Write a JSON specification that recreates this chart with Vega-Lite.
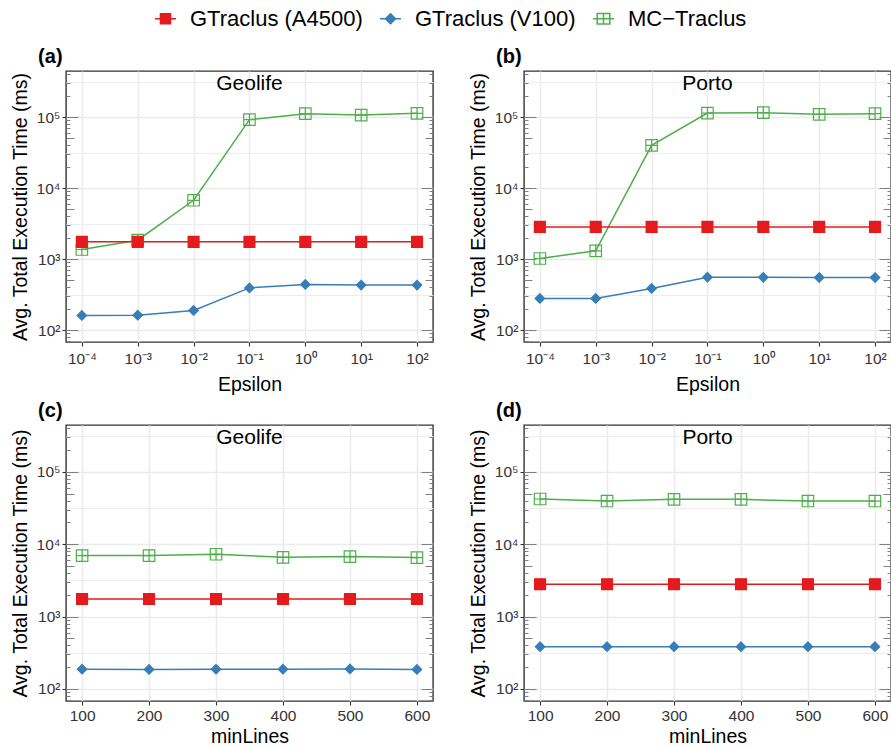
{
  "$schema": "https://vega.github.io/schema/vega-lite/v6.json",
  "padding": {"top": 7, "left": 9, "right": 0, "bottom": 0},
  "config": {
    "font": "Liberation Sans",
    "view": {"stroke": "#333333", "strokeWidth": 1.4},
    "axis": {"labelFont": "Liberation Sans", "titleFont": "Liberation Sans", "labelFontSize": 15.5, "labelColor": "#333333", "titleFontSize": 19.5, "titleFontWeight": "normal", "titleColor": "black", "domain": false, "tickColor": "#333333", "tickSize": 4, "tickWidth": 1.1, "gridColor": "#EBEBEB", "gridWidth": 1.5, "labelPadding": 2, "titlePadding": 6, "labelOverlap": false, "labelFlush": false},
    "legend": {"orient": "top", "direction": "horizontal", "labelFontSize": 22, "labelColor": "black", "labelFont": "Liberation Sans", "symbolSize": 441, "labelOffset": 13, "columnPadding": 14, "offset": 16, "symbolStrokeWidth": 1.5, "labelLimit": 400, "layout": {"top": {"anchor": "middle"}}},
    "title": {"fontSize": 20, "fontWeight": "bold", "color": "black", "anchor": "start", "frame": "bounds", "dx": 28, "offset": 4, "baseline": "bottom"}
  },
  "datasets": {
    "geolife_eps": [
      {"method": "MC−Traclus", "epsilon": 0.0001, "time": 1365},
      {"method": "MC−Traclus", "epsilon": 0.001, "time": 1845},
      {"method": "MC−Traclus", "epsilon": 0.01, "time": 6730},
      {"method": "MC−Traclus", "epsilon": 0.1, "time": 92000},
      {"method": "MC−Traclus", "epsilon": 1, "time": 111600},
      {"method": "MC−Traclus", "epsilon": 10, "time": 106700},
      {"method": "MC−Traclus", "epsilon": 100, "time": 112800},
      {"method": "GTraclus (V100)", "epsilon": 0.0001, "time": 161},
      {"method": "GTraclus (V100)", "epsilon": 0.001, "time": 162},
      {"method": "GTraclus (V100)", "epsilon": 0.01, "time": 189},
      {"method": "GTraclus (V100)", "epsilon": 0.1, "time": 393},
      {"method": "GTraclus (V100)", "epsilon": 1, "time": 440},
      {"method": "GTraclus (V100)", "epsilon": 10, "time": 430},
      {"method": "GTraclus (V100)", "epsilon": 100, "time": 430},
      {"method": "GTraclus (A4500)", "epsilon": 0.0001, "time": 1750},
      {"method": "GTraclus (A4500)", "epsilon": 0.001, "time": 1750},
      {"method": "GTraclus (A4500)", "epsilon": 0.01, "time": 1750},
      {"method": "GTraclus (A4500)", "epsilon": 0.1, "time": 1750},
      {"method": "GTraclus (A4500)", "epsilon": 1, "time": 1750},
      {"method": "GTraclus (A4500)", "epsilon": 10, "time": 1750},
      {"method": "GTraclus (A4500)", "epsilon": 100, "time": 1750}
    ],
    "porto_eps": [
      {"method": "MC−Traclus", "epsilon": 0.0001, "time": 1019},
      {"method": "MC−Traclus", "epsilon": 0.001, "time": 1307},
      {"method": "MC−Traclus", "epsilon": 0.01, "time": 40000},
      {"method": "MC−Traclus", "epsilon": 0.1, "time": 113800},
      {"method": "MC−Traclus", "epsilon": 1, "time": 115300},
      {"method": "MC−Traclus", "epsilon": 10, "time": 109100},
      {"method": "MC−Traclus", "epsilon": 100, "time": 111600},
      {"method": "GTraclus (V100)", "epsilon": 0.0001, "time": 279},
      {"method": "GTraclus (V100)", "epsilon": 0.001, "time": 279},
      {"method": "GTraclus (V100)", "epsilon": 0.01, "time": 386},
      {"method": "GTraclus (V100)", "epsilon": 0.1, "time": 556},
      {"method": "GTraclus (V100)", "epsilon": 1, "time": 553},
      {"method": "GTraclus (V100)", "epsilon": 10, "time": 550},
      {"method": "GTraclus (V100)", "epsilon": 100, "time": 550},
      {"method": "GTraclus (A4500)", "epsilon": 0.0001, "time": 2840},
      {"method": "GTraclus (A4500)", "epsilon": 0.001, "time": 2840},
      {"method": "GTraclus (A4500)", "epsilon": 0.01, "time": 2840},
      {"method": "GTraclus (A4500)", "epsilon": 0.1, "time": 2840},
      {"method": "GTraclus (A4500)", "epsilon": 1, "time": 2840},
      {"method": "GTraclus (A4500)", "epsilon": 10, "time": 2840},
      {"method": "GTraclus (A4500)", "epsilon": 100, "time": 2840}
    ],
    "geolife_ml": [
      {"method": "MC−Traclus", "minLines": 100, "time": 6970},
      {"method": "MC−Traclus", "minLines": 200, "time": 6970},
      {"method": "MC−Traclus", "minLines": 300, "time": 7265},
      {"method": "MC−Traclus", "minLines": 400, "time": 6590},
      {"method": "MC−Traclus", "minLines": 500, "time": 6740},
      {"method": "MC−Traclus", "minLines": 600, "time": 6530},
      {"method": "GTraclus (V100)", "minLines": 100, "time": 187},
      {"method": "GTraclus (V100)", "minLines": 200, "time": 186},
      {"method": "GTraclus (V100)", "minLines": 300, "time": 187},
      {"method": "GTraclus (V100)", "minLines": 400, "time": 187},
      {"method": "GTraclus (V100)", "minLines": 500, "time": 189},
      {"method": "GTraclus (V100)", "minLines": 600, "time": 186},
      {"method": "GTraclus (A4500)", "minLines": 100, "time": 1750},
      {"method": "GTraclus (A4500)", "minLines": 200, "time": 1750},
      {"method": "GTraclus (A4500)", "minLines": 300, "time": 1750},
      {"method": "GTraclus (A4500)", "minLines": 400, "time": 1750},
      {"method": "GTraclus (A4500)", "minLines": 500, "time": 1750},
      {"method": "GTraclus (A4500)", "minLines": 600, "time": 1750}
    ],
    "porto_ml": [
      {"method": "MC−Traclus", "minLines": 100, "time": 42200},
      {"method": "MC−Traclus", "minLines": 200, "time": 39560},
      {"method": "MC−Traclus", "minLines": 300, "time": 41700},
      {"method": "MC−Traclus", "minLines": 400, "time": 41700},
      {"method": "MC−Traclus", "minLines": 500, "time": 39560},
      {"method": "MC−Traclus", "minLines": 600, "time": 39560},
      {"method": "GTraclus (V100)", "minLines": 100, "time": 383},
      {"method": "GTraclus (V100)", "minLines": 200, "time": 383},
      {"method": "GTraclus (V100)", "minLines": 300, "time": 383},
      {"method": "GTraclus (V100)", "minLines": 400, "time": 383},
      {"method": "GTraclus (V100)", "minLines": 500, "time": 383},
      {"method": "GTraclus (V100)", "minLines": 600, "time": 383},
      {"method": "GTraclus (A4500)", "minLines": 100, "time": 2800},
      {"method": "GTraclus (A4500)", "minLines": 200, "time": 2800},
      {"method": "GTraclus (A4500)", "minLines": 300, "time": 2800},
      {"method": "GTraclus (A4500)", "minLines": 400, "time": 2800},
      {"method": "GTraclus (A4500)", "minLines": 500, "time": 2800},
      {"method": "GTraclus (A4500)", "minLines": 600, "time": 2800}
    ]
  },
  "columns": 2,
  "spacing": {"row": 5, "column": 32},
  "concat": [
    {
      "width": 367, "height": 271,
      "title": {"text": "(a)"},
      "data": {"name": "geolife_eps"},
      "resolve": {"axis": {"y": "independent"}},
      "layer": [
        {
          "mark": {"type": "line", "strokeWidth": 1.5},
          "encoding": {
            "x": {"field": "epsilon", "type": "quantitative", "scale": {"type": "log", "domain": [0.000052, 193], "nice": false},
              "axis": {"title": "Epsilon", "values": [0.0001, 0.001, 0.01, 0.1, 1, 10, 100], "grid": true, "labelPadding": 5, "titlePadding": 9, "labelExpr": "'10' + replace(replace(replace(replace(replace(replace(replace('' + round(log(datum.value)/LN10), '-', '⁻'), '0', '⁰'), '1', '¹'), '2', '²'), '3', '³'), '4', '⁴'), '5', '⁵')"}},
            "y": {"field": "time", "type": "quantitative", "scale": {"type": "log", "domain": [68, 445000], "nice": false},
              "axis": {"orient": "left", "title": "Avg. Total Execution Time (ms)", "values": [100, 316.2278, 1000, 3162.278, 10000, 31622.78, 100000, 316227.8], "grid": true,
                "labelExpr": "abs(log(datum.value)/LN10 - round(log(datum.value)/LN10)) > 0.1 ? '' : '10' + replace(replace(replace(replace(replace('' + round(log(datum.value)/LN10), '1', '¹'), '2', '²'), '3', '³'), '4', '⁴'), '5', '⁵')",
                "gridWidth": {"condition": {"test": "abs(log(datum.value)/LN10 - round(log(datum.value)/LN10)) > 0.1", "value": 0.9}, "value": 1.5},
                "tickOpacity": {"condition": {"test": "abs(log(datum.value)/LN10 - round(log(datum.value)/LN10)) > 0.1", "value": 0}, "value": 1}}},
            "color": {"field": "method", "type": "nominal", "scale": {"domain": ["GTraclus (A4500)", "GTraclus (V100)", "MC−Traclus"], "range": ["#E41A1C", "#377EB8", "#4DAF4A"]},
              "legend": {"title": null, "labelFontSize": 22, "symbolSize": 441, "labelOffset": 13, "columnPadding": 14, "encoding": {"symbols": {
                "shape": {"value": {"expr": "datum.value === 'GTraclus (A4500)' ? 'M-1,0H1M-0.48,-0.48H0.48V0.48H-0.48Z' : datum.value === 'GTraclus (V100)' ? 'M-1,0H1M0,-0.48L0.48,0L0,0.48L-0.48,0Z' : 'M-1,0H1M-0.6,-0.5H0.6V0.5H-0.6ZM0,-0.5V0.5'"}},
                "fill": {"value": {"expr": "datum.value === 'GTraclus (A4500)' ? '#E41A1C' : datum.value === 'GTraclus (V100)' ? '#377EB8' : 'transparent'"}},
                "size": {"value": 441}, "strokeWidth": {"value": 1.5}, "opacity": {"value": 1}}}}}
          }
        },
        {
          "mark": {"type": "point", "filled": false, "opacity": 1, "size": 196, "strokeWidth": 1.2},
          "encoding": {
            "x": {"field": "epsilon", "type": "quantitative"},
            "y": {"field": "time", "type": "quantitative",
              "axis": {"orient": "left", "title": null, "labels": false, "grid": false, "tickColor": "#808080", "tickWidth": 1,
                "values": [70, 80, 90, 100, 200, 300, 400, 500, 600, 700, 800, 900, 1000, 2000, 3000, 4000, 5000, 6000, 7000, 8000, 9000, 10000, 20000, 30000, 40000, 50000, 60000, 70000, 80000, 90000, 100000, 200000, 300000, 400000],
                "tickSize": {"condition": [{"test": "abs(log(datum.value)/LN10 - round(log(datum.value)/LN10)) < 0.01", "value": -12}, {"test": "round(datum.value / pow(10, floor(log(datum.value)/LN10 + 0.000001))) == 5", "value": -8}], "value": -4}}},
            "color": {"field": "method", "type": "nominal", "scale": {"domain": ["GTraclus (A4500)", "GTraclus (V100)", "MC−Traclus"], "range": ["#E41A1C", "#377EB8", "#4DAF4A"]},
              "legend": {"title": null, "labelFontSize": 22, "symbolSize": 441, "labelOffset": 13, "columnPadding": 14, "encoding": {"symbols": {
                "shape": {"value": {"expr": "datum.value === 'GTraclus (A4500)' ? 'M-1,0H1M-0.48,-0.48H0.48V0.48H-0.48Z' : datum.value === 'GTraclus (V100)' ? 'M-1,0H1M0,-0.48L0.48,0L0,0.48L-0.48,0Z' : 'M-1,0H1M-0.6,-0.5H0.6V0.5H-0.6ZM0,-0.5V0.5'"}},
                "fill": {"value": {"expr": "datum.value === 'GTraclus (A4500)' ? '#E41A1C' : datum.value === 'GTraclus (V100)' ? '#377EB8' : 'transparent'"}},
                "size": {"value": 441}, "strokeWidth": {"value": 1.5}, "opacity": {"value": 1}}}}},
            "fill": {"field": "method", "type": "nominal", "scale": {"domain": ["MC−Traclus", "GTraclus (V100)", "GTraclus (A4500)"], "range": ["transparent", "#377EB8", "#E41A1C"]}, "legend": null},
            "shape": {"field": "method", "type": "nominal", "scale": {"domain": ["MC−Traclus", "GTraclus (V100)", "GTraclus (A4500)"], "range": ["M-0.82,-0.82H0.82V0.82H-0.82ZM0,-0.82V0.82M-0.82,0H0.82", "M0,-0.68L0.68,0L0,0.68L-0.68,0Z", "M-0.78,-0.78H0.78V0.78H-0.78Z"]}, "legend": null}
          }
        },
        {
          "data": {"values": [{"name": "Geolife"}]},
          "mark": {"type": "text", "fontSize": 21, "color": "black", "baseline": "middle", "align": "center"},
          "encoding": {
            "x": {"datum": 0.1, "type": "quantitative"},
            "y": {"datum": 295000, "type": "quantitative",
              "axis": {"orient": "right", "title": null, "labels": false, "grid": false, "tickColor": "#808080", "tickWidth": 1,
                "values": [70, 80, 90, 100, 200, 300, 400, 500, 600, 700, 800, 900, 1000, 2000, 3000, 4000, 5000, 6000, 7000, 8000, 9000, 10000, 20000, 30000, 40000, 50000, 60000, 70000, 80000, 90000, 100000, 200000, 300000, 400000],
                "tickSize": {"condition": [{"test": "abs(log(datum.value)/LN10 - round(log(datum.value)/LN10)) < 0.01", "value": -12}, {"test": "round(datum.value / pow(10, floor(log(datum.value)/LN10 + 0.000001))) == 5", "value": -8}], "value": -4}}},
            "text": {"field": "name", "type": "nominal"}
          }
        }
      ]
    },
    {
      "width": 367, "height": 271,
      "title": {"text": "(b)"},
      "data": {"name": "porto_eps"},
      "resolve": {"axis": {"y": "independent"}},
      "layer": [
        {
          "mark": {"type": "line", "strokeWidth": 1.5},
          "encoding": {
            "x": {"field": "epsilon", "type": "quantitative", "scale": {"type": "log", "domain": [0.000052, 193], "nice": false},
              "axis": {"title": "Epsilon", "values": [0.0001, 0.001, 0.01, 0.1, 1, 10, 100], "grid": true, "labelPadding": 5, "titlePadding": 9, "labelExpr": "'10' + replace(replace(replace(replace(replace(replace(replace('' + round(log(datum.value)/LN10), '-', '⁻'), '0', '⁰'), '1', '¹'), '2', '²'), '3', '³'), '4', '⁴'), '5', '⁵')"}},
            "y": {"field": "time", "type": "quantitative", "scale": {"type": "log", "domain": [68, 445000], "nice": false},
              "axis": {"orient": "left", "title": "Avg. Total Execution Time (ms)", "values": [100, 316.2278, 1000, 3162.278, 10000, 31622.78, 100000, 316227.8], "grid": true,
                "labelExpr": "abs(log(datum.value)/LN10 - round(log(datum.value)/LN10)) > 0.1 ? '' : '10' + replace(replace(replace(replace(replace('' + round(log(datum.value)/LN10), '1', '¹'), '2', '²'), '3', '³'), '4', '⁴'), '5', '⁵')",
                "gridWidth": {"condition": {"test": "abs(log(datum.value)/LN10 - round(log(datum.value)/LN10)) > 0.1", "value": 0.9}, "value": 1.5},
                "tickOpacity": {"condition": {"test": "abs(log(datum.value)/LN10 - round(log(datum.value)/LN10)) > 0.1", "value": 0}, "value": 1}}},
            "color": {"field": "method", "type": "nominal", "scale": {"domain": ["GTraclus (A4500)", "GTraclus (V100)", "MC−Traclus"], "range": ["#E41A1C", "#377EB8", "#4DAF4A"]},
              "legend": {"title": null, "labelFontSize": 22, "symbolSize": 441, "labelOffset": 13, "columnPadding": 14, "encoding": {"symbols": {
                "shape": {"value": {"expr": "datum.value === 'GTraclus (A4500)' ? 'M-1,0H1M-0.48,-0.48H0.48V0.48H-0.48Z' : datum.value === 'GTraclus (V100)' ? 'M-1,0H1M0,-0.48L0.48,0L0,0.48L-0.48,0Z' : 'M-1,0H1M-0.6,-0.5H0.6V0.5H-0.6ZM0,-0.5V0.5'"}},
                "fill": {"value": {"expr": "datum.value === 'GTraclus (A4500)' ? '#E41A1C' : datum.value === 'GTraclus (V100)' ? '#377EB8' : 'transparent'"}},
                "size": {"value": 441}, "strokeWidth": {"value": 1.5}, "opacity": {"value": 1}}}}}
          }
        },
        {
          "mark": {"type": "point", "filled": false, "opacity": 1, "size": 196, "strokeWidth": 1.2},
          "encoding": {
            "x": {"field": "epsilon", "type": "quantitative"},
            "y": {"field": "time", "type": "quantitative",
              "axis": {"orient": "left", "title": null, "labels": false, "grid": false, "tickColor": "#808080", "tickWidth": 1,
                "values": [70, 80, 90, 100, 200, 300, 400, 500, 600, 700, 800, 900, 1000, 2000, 3000, 4000, 5000, 6000, 7000, 8000, 9000, 10000, 20000, 30000, 40000, 50000, 60000, 70000, 80000, 90000, 100000, 200000, 300000, 400000],
                "tickSize": {"condition": [{"test": "abs(log(datum.value)/LN10 - round(log(datum.value)/LN10)) < 0.01", "value": -12}, {"test": "round(datum.value / pow(10, floor(log(datum.value)/LN10 + 0.000001))) == 5", "value": -8}], "value": -4}}},
            "color": {"field": "method", "type": "nominal", "scale": {"domain": ["GTraclus (A4500)", "GTraclus (V100)", "MC−Traclus"], "range": ["#E41A1C", "#377EB8", "#4DAF4A"]},
              "legend": {"title": null, "labelFontSize": 22, "symbolSize": 441, "labelOffset": 13, "columnPadding": 14, "encoding": {"symbols": {
                "shape": {"value": {"expr": "datum.value === 'GTraclus (A4500)' ? 'M-1,0H1M-0.48,-0.48H0.48V0.48H-0.48Z' : datum.value === 'GTraclus (V100)' ? 'M-1,0H1M0,-0.48L0.48,0L0,0.48L-0.48,0Z' : 'M-1,0H1M-0.6,-0.5H0.6V0.5H-0.6ZM0,-0.5V0.5'"}},
                "fill": {"value": {"expr": "datum.value === 'GTraclus (A4500)' ? '#E41A1C' : datum.value === 'GTraclus (V100)' ? '#377EB8' : 'transparent'"}},
                "size": {"value": 441}, "strokeWidth": {"value": 1.5}, "opacity": {"value": 1}}}}},
            "fill": {"field": "method", "type": "nominal", "scale": {"domain": ["MC−Traclus", "GTraclus (V100)", "GTraclus (A4500)"], "range": ["transparent", "#377EB8", "#E41A1C"]}, "legend": null},
            "shape": {"field": "method", "type": "nominal", "scale": {"domain": ["MC−Traclus", "GTraclus (V100)", "GTraclus (A4500)"], "range": ["M-0.82,-0.82H0.82V0.82H-0.82ZM0,-0.82V0.82M-0.82,0H0.82", "M0,-0.68L0.68,0L0,0.68L-0.68,0Z", "M-0.78,-0.78H0.78V0.78H-0.78Z"]}, "legend": null}
          }
        },
        {
          "data": {"values": [{"name": "Porto"}]},
          "mark": {"type": "text", "fontSize": 21, "color": "black", "baseline": "middle", "align": "center"},
          "encoding": {
            "x": {"datum": 0.1, "type": "quantitative"},
            "y": {"datum": 295000, "type": "quantitative",
              "axis": {"orient": "right", "title": null, "labels": false, "grid": false, "tickColor": "#808080", "tickWidth": 1,
                "values": [70, 80, 90, 100, 200, 300, 400, 500, 600, 700, 800, 900, 1000, 2000, 3000, 4000, 5000, 6000, 7000, 8000, 9000, 10000, 20000, 30000, 40000, 50000, 60000, 70000, 80000, 90000, 100000, 200000, 300000, 400000],
                "tickSize": {"condition": [{"test": "abs(log(datum.value)/LN10 - round(log(datum.value)/LN10)) < 0.01", "value": -12}, {"test": "round(datum.value / pow(10, floor(log(datum.value)/LN10 + 0.000001))) == 5", "value": -8}], "value": -4}}},
            "text": {"field": "name", "type": "nominal"}
          }
        }
      ]
    },
    {
      "width": 367, "height": 276,
      "title": {"text": "(c)"},
      "data": {"name": "geolife_ml"},
      "resolve": {"axis": {"y": "independent"}},
      "layer": [
        {
          "mark": {"type": "line", "strokeWidth": 1.5},
          "encoding": {
            "x": {"field": "minLines", "type": "quantitative", "scale": {"domain": [76, 624], "nice": false, "zero": false},
              "axis": {"title": "minLines", "values": [100, 200, 300, 400, 500, 600], "grid": true, "labelPadding": 3, "titlePadding": 4}},
            "y": {"field": "time", "type": "quantitative", "scale": {"type": "log", "domain": [68, 445000], "nice": false},
              "axis": {"orient": "left", "title": "Avg. Total Execution Time (ms)", "values": [100, 316.2278, 1000, 3162.278, 10000, 31622.78, 100000, 316227.8], "grid": true,
                "labelExpr": "abs(log(datum.value)/LN10 - round(log(datum.value)/LN10)) > 0.1 ? '' : '10' + replace(replace(replace(replace(replace('' + round(log(datum.value)/LN10), '1', '¹'), '2', '²'), '3', '³'), '4', '⁴'), '5', '⁵')",
                "gridWidth": {"condition": {"test": "abs(log(datum.value)/LN10 - round(log(datum.value)/LN10)) > 0.1", "value": 0.9}, "value": 1.5},
                "tickOpacity": {"condition": {"test": "abs(log(datum.value)/LN10 - round(log(datum.value)/LN10)) > 0.1", "value": 0}, "value": 1}}},
            "color": {"field": "method", "type": "nominal", "scale": {"domain": ["GTraclus (A4500)", "GTraclus (V100)", "MC−Traclus"], "range": ["#E41A1C", "#377EB8", "#4DAF4A"]},
              "legend": {"title": null, "labelFontSize": 22, "symbolSize": 441, "labelOffset": 13, "columnPadding": 14, "encoding": {"symbols": {
                "shape": {"value": {"expr": "datum.value === 'GTraclus (A4500)' ? 'M-1,0H1M-0.48,-0.48H0.48V0.48H-0.48Z' : datum.value === 'GTraclus (V100)' ? 'M-1,0H1M0,-0.48L0.48,0L0,0.48L-0.48,0Z' : 'M-1,0H1M-0.6,-0.5H0.6V0.5H-0.6ZM0,-0.5V0.5'"}},
                "fill": {"value": {"expr": "datum.value === 'GTraclus (A4500)' ? '#E41A1C' : datum.value === 'GTraclus (V100)' ? '#377EB8' : 'transparent'"}},
                "size": {"value": 441}, "strokeWidth": {"value": 1.5}, "opacity": {"value": 1}}}}}
          }
        },
        {
          "mark": {"type": "point", "filled": false, "opacity": 1, "size": 196, "strokeWidth": 1.2},
          "encoding": {
            "x": {"field": "minLines", "type": "quantitative"},
            "y": {"field": "time", "type": "quantitative",
              "axis": {"orient": "left", "title": null, "labels": false, "grid": false, "tickColor": "#808080", "tickWidth": 1,
                "values": [70, 80, 90, 100, 200, 300, 400, 500, 600, 700, 800, 900, 1000, 2000, 3000, 4000, 5000, 6000, 7000, 8000, 9000, 10000, 20000, 30000, 40000, 50000, 60000, 70000, 80000, 90000, 100000, 200000, 300000, 400000],
                "tickSize": {"condition": [{"test": "abs(log(datum.value)/LN10 - round(log(datum.value)/LN10)) < 0.01", "value": -12}, {"test": "round(datum.value / pow(10, floor(log(datum.value)/LN10 + 0.000001))) == 5", "value": -8}], "value": -4}}},
            "color": {"field": "method", "type": "nominal", "scale": {"domain": ["GTraclus (A4500)", "GTraclus (V100)", "MC−Traclus"], "range": ["#E41A1C", "#377EB8", "#4DAF4A"]},
              "legend": {"title": null, "labelFontSize": 22, "symbolSize": 441, "labelOffset": 13, "columnPadding": 14, "encoding": {"symbols": {
                "shape": {"value": {"expr": "datum.value === 'GTraclus (A4500)' ? 'M-1,0H1M-0.48,-0.48H0.48V0.48H-0.48Z' : datum.value === 'GTraclus (V100)' ? 'M-1,0H1M0,-0.48L0.48,0L0,0.48L-0.48,0Z' : 'M-1,0H1M-0.6,-0.5H0.6V0.5H-0.6ZM0,-0.5V0.5'"}},
                "fill": {"value": {"expr": "datum.value === 'GTraclus (A4500)' ? '#E41A1C' : datum.value === 'GTraclus (V100)' ? '#377EB8' : 'transparent'"}},
                "size": {"value": 441}, "strokeWidth": {"value": 1.5}, "opacity": {"value": 1}}}}},
            "fill": {"field": "method", "type": "nominal", "scale": {"domain": ["MC−Traclus", "GTraclus (V100)", "GTraclus (A4500)"], "range": ["transparent", "#377EB8", "#E41A1C"]}, "legend": null},
            "shape": {"field": "method", "type": "nominal", "scale": {"domain": ["MC−Traclus", "GTraclus (V100)", "GTraclus (A4500)"], "range": ["M-0.82,-0.82H0.82V0.82H-0.82ZM0,-0.82V0.82M-0.82,0H0.82", "M0,-0.68L0.68,0L0,0.68L-0.68,0Z", "M-0.78,-0.78H0.78V0.78H-0.78Z"]}, "legend": null}
          }
        },
        {
          "data": {"values": [{"name": "Geolife"}]},
          "mark": {"type": "text", "fontSize": 21, "color": "black", "baseline": "middle", "align": "center"},
          "encoding": {
            "x": {"datum": 350, "type": "quantitative"},
            "y": {"datum": 295000, "type": "quantitative",
              "axis": {"orient": "right", "title": null, "labels": false, "grid": false, "tickColor": "#808080", "tickWidth": 1,
                "values": [70, 80, 90, 100, 200, 300, 400, 500, 600, 700, 800, 900, 1000, 2000, 3000, 4000, 5000, 6000, 7000, 8000, 9000, 10000, 20000, 30000, 40000, 50000, 60000, 70000, 80000, 90000, 100000, 200000, 300000, 400000],
                "tickSize": {"condition": [{"test": "abs(log(datum.value)/LN10 - round(log(datum.value)/LN10)) < 0.01", "value": -12}, {"test": "round(datum.value / pow(10, floor(log(datum.value)/LN10 + 0.000001))) == 5", "value": -8}], "value": -4}}},
            "text": {"field": "name", "type": "nominal"}
          }
        }
      ]
    },
    {
      "width": 367, "height": 276,
      "title": {"text": "(d)"},
      "data": {"name": "porto_ml"},
      "resolve": {"axis": {"y": "independent"}},
      "layer": [
        {
          "mark": {"type": "line", "strokeWidth": 1.5},
          "encoding": {
            "x": {"field": "minLines", "type": "quantitative", "scale": {"domain": [76, 624], "nice": false, "zero": false},
              "axis": {"title": "minLines", "values": [100, 200, 300, 400, 500, 600], "grid": true, "labelPadding": 3, "titlePadding": 4}},
            "y": {"field": "time", "type": "quantitative", "scale": {"type": "log", "domain": [68, 445000], "nice": false},
              "axis": {"orient": "left", "title": "Avg. Total Execution Time (ms)", "values": [100, 316.2278, 1000, 3162.278, 10000, 31622.78, 100000, 316227.8], "grid": true,
                "labelExpr": "abs(log(datum.value)/LN10 - round(log(datum.value)/LN10)) > 0.1 ? '' : '10' + replace(replace(replace(replace(replace('' + round(log(datum.value)/LN10), '1', '¹'), '2', '²'), '3', '³'), '4', '⁴'), '5', '⁵')",
                "gridWidth": {"condition": {"test": "abs(log(datum.value)/LN10 - round(log(datum.value)/LN10)) > 0.1", "value": 0.9}, "value": 1.5},
                "tickOpacity": {"condition": {"test": "abs(log(datum.value)/LN10 - round(log(datum.value)/LN10)) > 0.1", "value": 0}, "value": 1}}},
            "color": {"field": "method", "type": "nominal", "scale": {"domain": ["GTraclus (A4500)", "GTraclus (V100)", "MC−Traclus"], "range": ["#E41A1C", "#377EB8", "#4DAF4A"]},
              "legend": {"title": null, "labelFontSize": 22, "symbolSize": 441, "labelOffset": 13, "columnPadding": 14, "encoding": {"symbols": {
                "shape": {"value": {"expr": "datum.value === 'GTraclus (A4500)' ? 'M-1,0H1M-0.48,-0.48H0.48V0.48H-0.48Z' : datum.value === 'GTraclus (V100)' ? 'M-1,0H1M0,-0.48L0.48,0L0,0.48L-0.48,0Z' : 'M-1,0H1M-0.6,-0.5H0.6V0.5H-0.6ZM0,-0.5V0.5'"}},
                "fill": {"value": {"expr": "datum.value === 'GTraclus (A4500)' ? '#E41A1C' : datum.value === 'GTraclus (V100)' ? '#377EB8' : 'transparent'"}},
                "size": {"value": 441}, "strokeWidth": {"value": 1.5}, "opacity": {"value": 1}}}}}
          }
        },
        {
          "mark": {"type": "point", "filled": false, "opacity": 1, "size": 196, "strokeWidth": 1.2},
          "encoding": {
            "x": {"field": "minLines", "type": "quantitative"},
            "y": {"field": "time", "type": "quantitative",
              "axis": {"orient": "left", "title": null, "labels": false, "grid": false, "tickColor": "#808080", "tickWidth": 1,
                "values": [70, 80, 90, 100, 200, 300, 400, 500, 600, 700, 800, 900, 1000, 2000, 3000, 4000, 5000, 6000, 7000, 8000, 9000, 10000, 20000, 30000, 40000, 50000, 60000, 70000, 80000, 90000, 100000, 200000, 300000, 400000],
                "tickSize": {"condition": [{"test": "abs(log(datum.value)/LN10 - round(log(datum.value)/LN10)) < 0.01", "value": -12}, {"test": "round(datum.value / pow(10, floor(log(datum.value)/LN10 + 0.000001))) == 5", "value": -8}], "value": -4}}},
            "color": {"field": "method", "type": "nominal", "scale": {"domain": ["GTraclus (A4500)", "GTraclus (V100)", "MC−Traclus"], "range": ["#E41A1C", "#377EB8", "#4DAF4A"]},
              "legend": {"title": null, "labelFontSize": 22, "symbolSize": 441, "labelOffset": 13, "columnPadding": 14, "encoding": {"symbols": {
                "shape": {"value": {"expr": "datum.value === 'GTraclus (A4500)' ? 'M-1,0H1M-0.48,-0.48H0.48V0.48H-0.48Z' : datum.value === 'GTraclus (V100)' ? 'M-1,0H1M0,-0.48L0.48,0L0,0.48L-0.48,0Z' : 'M-1,0H1M-0.6,-0.5H0.6V0.5H-0.6ZM0,-0.5V0.5'"}},
                "fill": {"value": {"expr": "datum.value === 'GTraclus (A4500)' ? '#E41A1C' : datum.value === 'GTraclus (V100)' ? '#377EB8' : 'transparent'"}},
                "size": {"value": 441}, "strokeWidth": {"value": 1.5}, "opacity": {"value": 1}}}}},
            "fill": {"field": "method", "type": "nominal", "scale": {"domain": ["MC−Traclus", "GTraclus (V100)", "GTraclus (A4500)"], "range": ["transparent", "#377EB8", "#E41A1C"]}, "legend": null},
            "shape": {"field": "method", "type": "nominal", "scale": {"domain": ["MC−Traclus", "GTraclus (V100)", "GTraclus (A4500)"], "range": ["M-0.82,-0.82H0.82V0.82H-0.82ZM0,-0.82V0.82M-0.82,0H0.82", "M0,-0.68L0.68,0L0,0.68L-0.68,0Z", "M-0.78,-0.78H0.78V0.78H-0.78Z"]}, "legend": null}
          }
        },
        {
          "data": {"values": [{"name": "Porto"}]},
          "mark": {"type": "text", "fontSize": 21, "color": "black", "baseline": "middle", "align": "center"},
          "encoding": {
            "x": {"datum": 350, "type": "quantitative"},
            "y": {"datum": 295000, "type": "quantitative",
              "axis": {"orient": "right", "title": null, "labels": false, "grid": false, "tickColor": "#808080", "tickWidth": 1,
                "values": [70, 80, 90, 100, 200, 300, 400, 500, 600, 700, 800, 900, 1000, 2000, 3000, 4000, 5000, 6000, 7000, 8000, 9000, 10000, 20000, 30000, 40000, 50000, 60000, 70000, 80000, 90000, 100000, 200000, 300000, 400000],
                "tickSize": {"condition": [{"test": "abs(log(datum.value)/LN10 - round(log(datum.value)/LN10)) < 0.01", "value": -12}, {"test": "round(datum.value / pow(10, floor(log(datum.value)/LN10 + 0.000001))) == 5", "value": -8}], "value": -4}}},
            "text": {"field": "name", "type": "nominal"}
          }
        }
      ]
    }
  ]
}
